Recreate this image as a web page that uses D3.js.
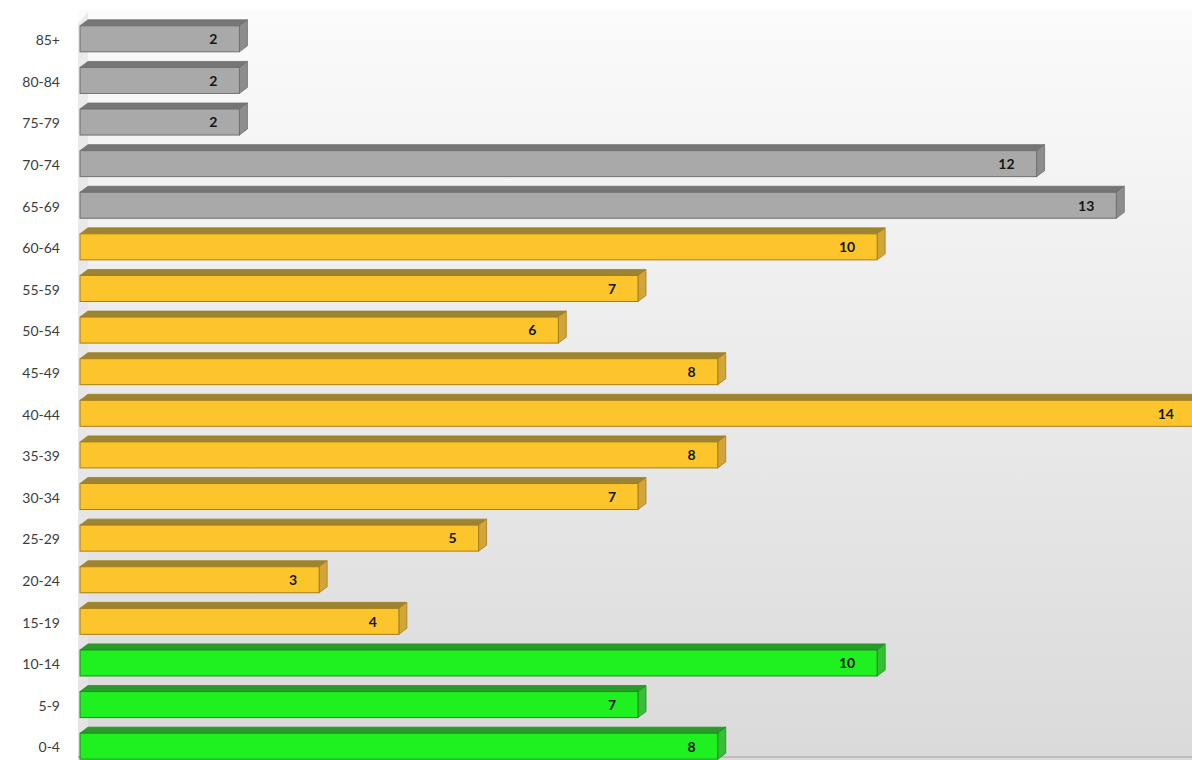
<!DOCTYPE html>
<html>
<head>
<meta charset="utf-8">
<script src="https://cdn.jsdelivr.net/npm/d3@7"></script>
<style>
  body { margin: 0; background: #fff; }
  .d3-label { font-family: Lato, "Open Sans", sans-serif; font-size: 14px; fill: #3c3c3c; }
  .d3-value { font-family: Lato, "Open Sans", sans-serif; font-size: 14px; font-weight: bold; fill: #151515; }
</style>
</head>
<body>
<div id="chart"></div>
<script>
// age bands, bottom to top
var ageBands = ["0-4", "5-9", "10-14", "15-19", "20-24", "25-29", "30-34", "35-39", "40-44",
    "45-49", "50-54", "55-59", "60-64", "65-69", "70-74", "75-79", "80-84", "85+"];
var counts = [8, 7, 10, 4, 3, 5, 7, 8, 14, 8, 6, 7, 10, 13, 12, 2, 2, 2];
var groups = ["child", "child", "child", "adult", "adult", "adult", "adult", "adult", "adult",
    "adult", "adult", "adult", "adult", "senior", "senior", "senior", "senior", "senior"];

var palette = {
    child:  {front: "#1ff01f", top: "#2a9a2a", side: "#36c036", edge: "#1f8a1f"},
    adult:  {front: "#fcc52c", top: "#9c8433", side: "#d2a538", edge: "#a57e1c"},
    senior: {front: "#a9a9a9", top: "#767676", side: "#8d8d8d", edge: "#6f6f6f"}
};

var width = 1192, height = 760;
var depthX = 8, depthY = 6;

var items = ageBands.map(function(a, i) {
    return {band: a, v: counts[i], group: groups[i]};
});

var svg = d3.select("#chart").append("svg")
    .attr("width", width)
    .attr("height", height);

var defs = svg.append("defs");
var bg = defs.append("linearGradient")
    .attr("id", "bg").attr("x1", 0).attr("y1", 0).attr("x2", 0).attr("y2", 1);
bg.append("stop").attr("offset", "0%").attr("stop-color", "#fbfbfb");
bg.append("stop").attr("offset", "100%").attr("stop-color", "#dadada");

var x = d3.scaleLinear().domain([0, 14]).range([80, 1196]);
var y = d3.scaleBand()
    .domain(ageBands.slice().reverse())
    .range([18, 767])
    .paddingInner(0.375)
    .paddingOuter(0.1875);

// back wall / floor
svg.append("rect")
    .attr("x", 78).attr("y", 10)
    .attr("width", width - 78).attr("height", height - 10)
    .style("fill", "url(#bg)");

svg.append("path")
    .attr("d", "M78,24 L88,12 L88,760 L78,760 Z")
    .style("fill", "#e6e6e6")
    .style("opacity", 0.8);

svg.append("line")
    .attr("x1", 78).attr("x2", width)
    .attr("y1", 757).attr("y2", 757)
    .style("stroke", "#bdbdbd").style("stroke-width", 2);

var bar = svg.selectAll(".d3-bar")
    .data(items)
    .enter().append("g")
    .attr("class", "d3-bar");

// top face
bar.append("path")
    .attr("d", function(d) {
        var x0 = x(0), x1 = x(d.v), y0 = y(d.band);
        return "M" + x0 + "," + y0 + " L" + (x0 + depthX) + "," + (y0 - depthY) +
            " L" + (x1 + depthX) + "," + (y0 - depthY) + " L" + x1 + "," + y0 + " Z";
    })
    .style("fill", function(d) { return palette[d.group].top; })
    .style("stroke", function(d) { return palette[d.group].edge; })
    .style("stroke-width", 0.8);

// side face
bar.append("path")
    .attr("d", function(d) {
        var x1 = x(d.v), y0 = y(d.band), y1 = y0 + y.bandwidth();
        return "M" + x1 + "," + y0 + " L" + (x1 + depthX) + "," + (y0 - depthY) +
            " L" + (x1 + depthX) + "," + (y1 - depthY) + " L" + x1 + "," + y1 + " Z";
    })
    .style("fill", function(d) { return palette[d.group].side; })
    .style("stroke", function(d) { return palette[d.group].edge; })
    .style("stroke-width", 0.8);

// front face
bar.append("rect")
    .attr("x", x(0))
    .attr("y", function(d) { return y(d.band); })
    .attr("width", function(d) { return x(d.v) - x(0); })
    .attr("height", y.bandwidth())
    .style("fill", function(d) { return palette[d.group].front; })
    .style("stroke", function(d) { return palette[d.group].edge; })
    .style("stroke-width", 1);

bar.append("text")
    .attr("class", "d3-value")
    .attr("x", function(d) { return x(d.v) - 22; })
    .attr("y", function(d) { return y(d.band) + y.bandwidth() / 2; })
    .attr("dy", "0.38em")
    .style("text-anchor", "end")
    .text(function(d) { return d.v; });

svg.selectAll(".d3-label")
    .data(items)
    .enter().append("text")
    .attr("class", "d3-label")
    .attr("x", 60)
    .attr("y", function(d) { return y(d.band) + y.bandwidth() / 2; })
    .attr("dy", "0.45em")
    .style("text-anchor", "end")
    .text(function(d) { return d.band; });
</script>
</body>
</html>
